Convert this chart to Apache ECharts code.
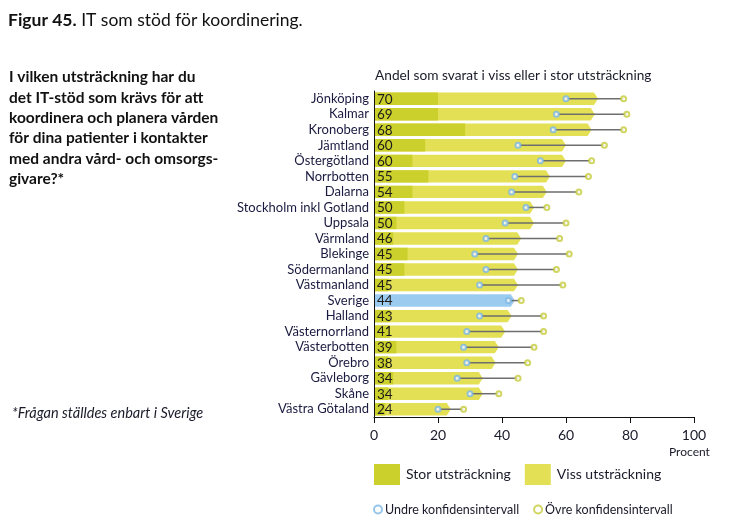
<!DOCTYPE html>
<html><head><meta charset="utf-8">
<script src="https://cdn.jsdelivr.net/npm/echarts@6/dist/echarts.min.js"></script>
<style>html,body{margin:0;padding:0;background:#fff}#c{width:755px;height:527px}</style>
</head><body><div id="c"></div>
<script>
const regions = ["Jönköping","Kalmar","Kronoberg","Jämtland","Östergötland","Norrbotten","Dalarna","Stockholm inkl Gotland","Uppsala","Värmland","Blekinge","Södermanland","Västmanland","Sverige","Halland","Västernorrland","Västerbotten","Örebro","Gävleborg","Skåne","Västra Götaland"];
const total = [70,69,68,60,60,55,54,50,50,46,45,45,45,44,43,41,39,38,34,34,24];
const stor  = [20,20,28.5,16,12,17,12,9.5,7,6,10.5,9.5,4.5,null,5,5,7,4.5,6,4.5,3.5];
const lower = [60,57,56,45,52,44,43,47.5,41,35,31.5,35,33,42,33,29,28,29,26,30,20];
const upper = [78,79,78,72,68,67,64,54,60,58,61,57,59,46,53,53,50,48,45,39,28];
const xTicks = [0,20,40,60,80,100];

const cStor = '#cbd02c', cViss = '#e3e055', cSve = '#9ccbf0';
const cLow = '#7ab6e6', cUp = '#c5ca3a';
const FONT = 'Lato, "Noto Sans", sans-serif';

const chart = echarts.init(document.getElementById('c'), null, {renderer:'canvas'});

function barH(api){ return api.size([0,1])[1]*0.8; }

const option = {
  animation:false,
  textStyle:{fontFamily:FONT},
  title:[{
    left:3, top:6,
    text:'{b|Figur 45.} IT som stöd för koordinering.',
    textStyle:{fontFamily:FONT,fontSize:17.5,fontWeight:'normal',color:'#111',rich:{b:{fontFamily:FONT,fontSize:17.5,fontWeight:'bold',color:'#111'}}}
  },{
    left:4, top:62,
    text:'I vilken utsträckning har du\ndet IT-stöd som krävs för att\nkoordinera och planera vården\nför dina patienter i kontakter\nmed andra vård- och omsorgs-\ngivare?*',
    textStyle:{fontFamily:FONT,fontSize:15.5,fontWeight:'bold',color:'#111',lineHeight:20.4}
  },{
    left:7, top:401,
    text:'*Frågan ställdes enbart i Sverige',
    textStyle:{fontFamily:FONT,fontSize:14.5,fontWeight:'normal',fontStyle:'italic',color:'#1a1a2a'}
  },{
    left:370, top:64,
    text:'Andel som svarat i viss eller i stor utsträckning',
    textStyle:{fontFamily:FONT,fontSize:13.7,fontWeight:'normal',color:'#1a1a2a'}
  },{
    left:664, top:441,
    text:'Procent',
    textStyle:{fontFamily:FONT,fontSize:12,fontWeight:'normal',color:'#1a1a2a'}
  }],
  legend:[{
    left:369, top:459, itemGap:14, itemWidth:26, itemHeight:21,
    icon:'rect',
    data:['Stor utsträckning','Viss utsträckning'],
    textStyle:{fontFamily:FONT,fontSize:14,color:'#1a1a2a',padding:[0,0,0,1]}
  },{
    left:368, top:498, itemGap:14, itemWidth:8, itemHeight:8,
    data:['Undre konfidensintervall','Övre konfidensintervall'],
    textStyle:{fontFamily:FONT,fontSize:12.5,color:'#1a1a2a',padding:[0,0,0,-2]}
  }],
  grid:{left:374, right:61, top:91, bottom:110},
  xAxis:{
    type:'value', min:0, max:100, interval:20,
    axisLine:{show:true,lineStyle:{color:'#111',width:1}},
    axisTick:{show:true,length:6,lineStyle:{color:'#111'}},
    splitLine:{show:false},
    axisLabel:{fontFamily:FONT,fontSize:14,color:'#1a1a2a',margin:11,
      formatter:function(v){return xTicks.indexOf(v)>=0?String(v):'';}}
  },
  yAxis:{
    type:'category', data:regions, inverse:true,
    axisLine:{show:true,lineStyle:{color:'#111',width:1}},
    axisTick:{show:false},
    axisLabel:{interval:0,fontFamily:FONT,fontSize:13,color:'#1a1a40',margin:5}
  },
  series:[{
    name:'Viss utsträckning', type:'custom', itemStyle:{color:cViss},
    encode:{x:0,y:1}, z:2,
    data:total.map((v,i)=>[v,i]),
    renderItem:function(params,api){
      const i = api.value(1), v = api.value(0);
      const s = api.coord([0,i]), e = api.coord([v,i]);
      const h = barH(api), y0 = s[1]-h/2, y1 = s[1]+h/2, tip = 4;
      const col = regions[i]==='Sverige' ? cSve : cViss;
      return {type:'polygon', shape:{points:[[s[0]+1,y0],[e[0]-tip,y0],[e[0],s[1]],[e[0]-tip,y1],[s[0]+1,y1]]}, style:{fill:col}};
    }
  },{
    name:'Stor utsträckning', type:'custom', itemStyle:{color:cStor},
    encode:{x:0,y:1}, z:3,
    data:stor.map((v,i)=>[v==null?0:v,i]),
    renderItem:function(params,api){
      const i = api.value(1), v = api.value(0);
      const s = api.coord([0,i]), e = api.coord([v,i]);
      const h = barH(api);
      return {type:'group', children:[
        {type:'rect', shape:{x:s[0]+1,y:s[1]-h/2,width:Math.max(0,e[0]-s[0]-1),height:h}, style:{fill:cStor}},
        {type:'text', x:s[0]+3, y:s[1]+0.5, style:{text:String(total[i]), fill:'#1a1a1a', font:'13.5px '+FONT, verticalAlign:'middle', align:'left'}}
      ]};
    }
  },{
    name:'ci', type:'custom', encode:{x:[0,1],y:2}, z:4, silent:true,
    data:lower.map((v,i)=>[v,upper[i],i]),
    renderItem:function(params,api){
      const a = api.coord([api.value(0),api.value(2)]), b = api.coord([api.value(1),api.value(2)]);
      return {type:'line', shape:{x1:a[0],y1:a[1],x2:b[0],y2:b[1]}, style:{stroke:'#6e6e6e',lineWidth:1.5}};
    }
  },{
    name:'Undre konfidensintervall', type:'scatter', z:5,
    symbol:'emptyCircle', symbolSize:5,
    itemStyle:{color:cLow,borderWidth:1.5},
    data:lower.map((v,i)=>[v,i])
  },{
    name:'Övre konfidensintervall', type:'scatter', z:5,
    symbol:'emptyCircle', symbolSize:5,
    itemStyle:{color:cUp,borderWidth:1.5},
    data:upper.map((v,i)=>[v,i])
  }]
};
chart.setOption(option);
</script></body></html>
